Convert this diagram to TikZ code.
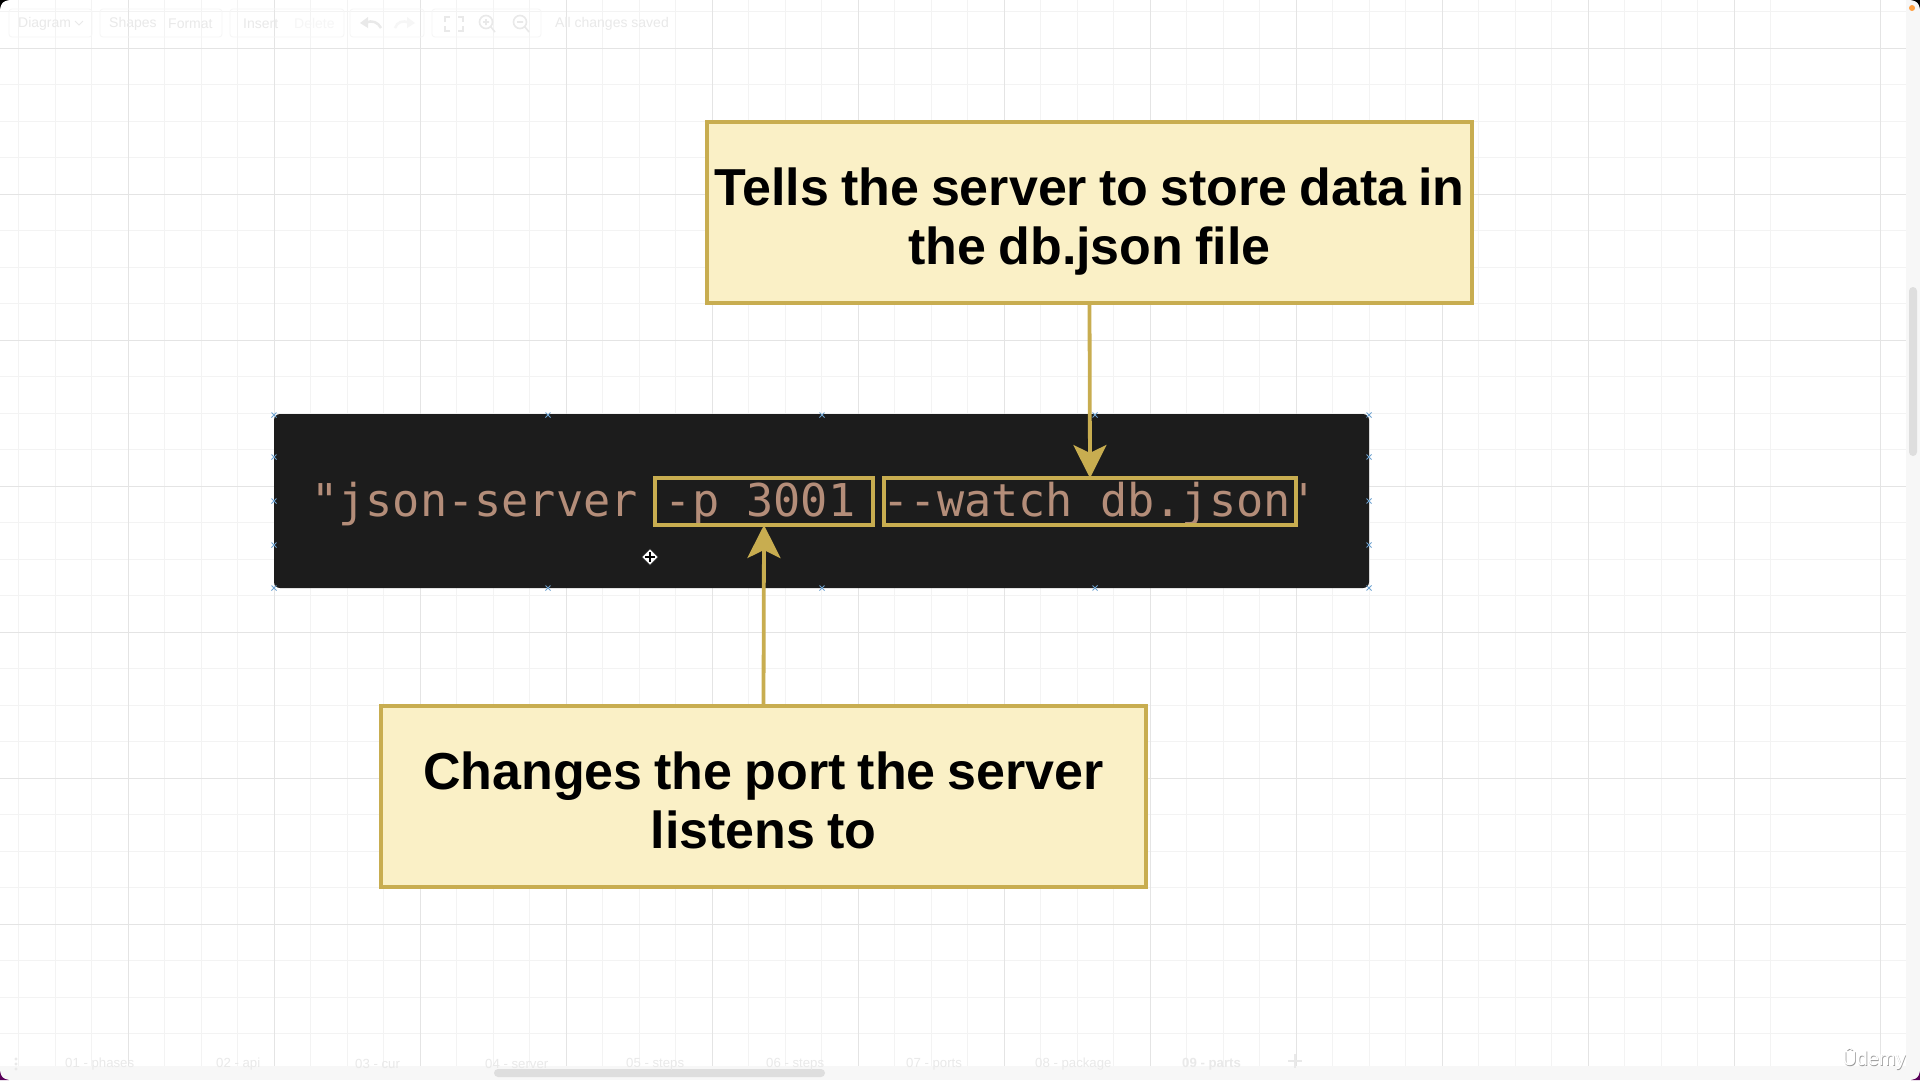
\documentclass[tikz,border=0pt]{standalone}
\usepackage{fontspec}
\setmainfont{Liberation Sans}
\newfontfamily\codefont{DejaVu Sans Mono}
\usetikzlibrary{arrows.meta}
\definecolor{gold}{HTML}{C8AD50}
\definecolor{paper}{HTML}{FAF0C6}
\definecolor{ink}{HTML}{1C1C1C}
\definecolor{codetxt}{HTML}{B48D79}
\definecolor{minorg}{HTML}{F3F3F3}
\definecolor{majorg}{HTML}{E4E4E4}
\definecolor{ghost}{HTML}{E9E9E9}
\definecolor{ghostb}{HTML}{F6F6F6}
\definecolor{handle}{HTML}{6FA3D0}
\newcommand{\lsa}{\spaceskip=12pt\relax\rule{0pt}{57.4pt}}
\newcommand{\lsb}{\rule[-12pt]{0pt}{12pt}}
\tikzset{
  note/.style={draw=gold,fill=paper,line width=3.8pt,minimum width=765pt,minimum height=181pt,
    inner sep=0pt,outer sep=0pt,text width=765pt,align=center,
    font=\fontsize{52}{59}\selectfont\bfseries,text=black},
  frameb/.style={draw=gold,line width=3.6pt,inner sep=0pt,outer sep=0pt},
  pointer/.style={draw=gold,line width=3.8pt,-{Stealth[length=33pt,width=33pt,inset=8pt]},fill=gold},
  ui/.style={text=ghost,font=\fontsize{14}{16}\selectfont,inner sep=0pt,anchor=west},
  tabtxt/.style={text=ghost,font=\fontsize{13.2}{16}\selectfont,inner sep=0pt,anchor=west},
  panel/.style={draw=ghostb,line width=.8pt,rounded corners=3pt},
  uiicon/.style={draw=ghost,line width=1.6pt},
  hmark/.style={draw=handle,line width=1pt}
}
\newcommand{\hdl}[2]{\draw[hmark] (#1-2.5,#2-2.5) -- (#1+2.5,#2+2.5) (#1-2.5,#2+2.5) -- (#1+2.5,#2-2.5);}
\begin{document}
\begin{tikzpicture}[x=1pt,y=-1pt]
\useasboundingbox (0,0) rectangle (1920,1080);
\fill[white] (0,0) rectangle (1920,1080);
% grid
\foreach \i in {-3,...,48}{
  \draw[minorg,line width=1pt] ({18.5+36.5*\i},0) -- ({18.5+36.5*\i},1066);
  \draw[minorg,line width=1pt] (0,{48+36.5*\i}) -- (1906,{48+36.5*\i});
}
\foreach \i in {0,...,12}{
  \draw[majorg,line width=1pt] ({128.5+146*\i},0) -- ({128.5+146*\i},1066);
}
\foreach \i in {0,...,6}{
  \draw[majorg,line width=1pt] (0,{48+146*\i}) -- (1906,{48+146*\i});
}
% window strips
\fill[white!97!black] (1906,0) rectangle (1920,1080);
\fill[white!97!black] (0,1066) rectangle (1920,1080);
\fill[black!13,rounded corners=4pt] (494,1069) rectangle (825,1077);
\fill[black!13,rounded corners=4pt] (1909,287) rectangle (1917,456);
% toolbar
\draw[panel] (9,9) rectangle (92,37);
\draw[panel] (100,9) rectangle (222,37);
\draw[panel] (230,9) rectangle (344,37);
\draw[panel] (350,9) rectangle (424,37);
\draw[panel] (432,9) rectangle (541,37);
\node[ui] (tdiagram) at (18,23.5) {Diagram};
\node[ui] (tshapes) at (109,23.5) {Shapes};
\node[ui] (tformat) at (168,23.5) {Format};
\node[ui] (tinsert) at (243,23.5) {Insert};
\node[ui,text=ghostb] (tdelete) at (294,23.5) {Delete};
\node[ui] (tsaved) at (555,24) {All changes saved};
\draw[uiicon,line width=1pt] (75,21) -- (79,25) -- (83,21);
\fill[ghost] (360,23) -- (368,17) -- (368,28) -- cycle;
\draw[ghost,line width=2.5pt] (366,22.5) .. controls (372,20) and (378,22) .. (381,28);
\fill[ghostb] (415,23) -- (407,17) -- (407,28) -- cycle;
\draw[ghostb,line width=2.5pt] (409,22.5) .. controls (403,20) and (397,22) .. (395,28);
\draw[uiicon] (445,22) -- (445,17) -- (450,17) (458,17) -- (463,17) -- (463,22) (463,26) -- (463,31) -- (458,31) (450,31) -- (445,31) -- (445,26);
\draw[uiicon] (486,22) circle (6.5pt) (491,27) -- (495,32) (483,22) -- (489,22) (486,19) -- (486,25);
\draw[uiicon] (520,22) circle (6.5pt) (525,27) -- (529,32) (517,22) -- (523,22);
% tabs
\node[tabtxt] (tab1) at (65,1064) {01 - phases};
\node[tabtxt] (tab2) at (216,1064) {02 - api};
\node[tabtxt] (tab3) at (355,1064) {03 - cur};
\node[tabtxt] (tab4) at (485,1064) {04 - server};
\node[tabtxt] (tab5) at (626,1064) {05 - steps};
\node[tabtxt] (tab6) at (766,1064) {06 - steps};
\node[tabtxt] (tab7) at (906,1064) {07 - ports};
\node[tabtxt] (tab8) at (1035,1064) {08 - package};
\node[tabtxt,font=\fontsize{13.2}{16}\selectfont\bfseries] (tab9) at (1182,1064) {09 - parts};
\draw[ghost,line width=2.5pt] (1288,1061) -- (1302,1061) (1295,1054) -- (1295,1068);
\fill[ghost] (16,1059) circle (1.6pt) (16,1064) circle (1.6pt) (16,1069) circle (1.6pt);
% watermark
\node[inner sep=0pt,anchor=east,text=black!40,font=\fontsize{20}{24}\selectfont] (logoS) at (1906.6,1059.6) {Ûdemy};
\node[inner sep=0pt,anchor=east,text=white,font=\fontsize{20}{24}\selectfont] (logo) at (1906,1059) {Ûdemy};
% window corners
\fill[black] (0,0) -- (9,0) .. controls (3,1) and (1,3) .. (0,9) -- cycle;
\fill[black] (1920,0) -- (1911,0) .. controls (1917,1) and (1919,3) .. (1920,9) -- cycle;
\fill[violet!70!black] (0,1080) -- (9,1080) .. controls (3,1079) and (1,1077) .. (0,1071) -- cycle;
\fill[violet!70!black] (1920,1080) -- (1911,1080) .. controls (1917,1079) and (1919,1077) .. (1920,1071) -- cycle;
\fill[orange!75!white] (1912,8) circle (3pt);
% terminal
\node[fill=ink,draw=none,rounded corners=6pt,minimum width=1095pt,minimum height=174pt,inner sep=0pt,outer sep=0pt,anchor=north west] (term) at (274,414) {};
\foreach \x in {274,548,822,1095,1369}{\hdl{\x}{415}\hdl{\x}{588}}
\foreach \y in {457,501,545}{\hdl{274}{\y}\hdl{1369}{\y}}
\node[anchor=base west,inner sep=0pt,text=codetxt,font=\codefont\fontsize{45.2}{50}\selectfont] (code) at (311,516) {"json-server -p 3001 --watch db.json'};
% frames
\node[frameb,minimum width=218pt,minimum height=47pt,anchor=north west] (portbox) at (655,478) {};
\node[frameb,minimum width=412pt,minimum height=47pt,anchor=north west] (watchbox) at (884,478) {};
% notes
\node[note,anchor=north west] (topnote) at (707,122) {\lsa Tells the server to store data in\\the db.json file\lsb};
\node[note,anchor=north west] (botnote) at (381,706) {\lsa Changes the port the server\\listens to\lsb};
% connectors
\draw[pointer] (topnote.south) -- (watchbox.north);
\draw[pointer] (botnote.north) -- (portbox.south);
% move cursor
\coordinate (cur) at (650,557);
\fill[white,draw=black!70,line width=.6pt] (650,549) -- (658,557) -- (650,565) -- (642,557) -- cycle;
\draw[black,line width=2pt] (645,557) -- (655,557) (650,552) -- (650,562);
\end{tikzpicture}
\end{document}
